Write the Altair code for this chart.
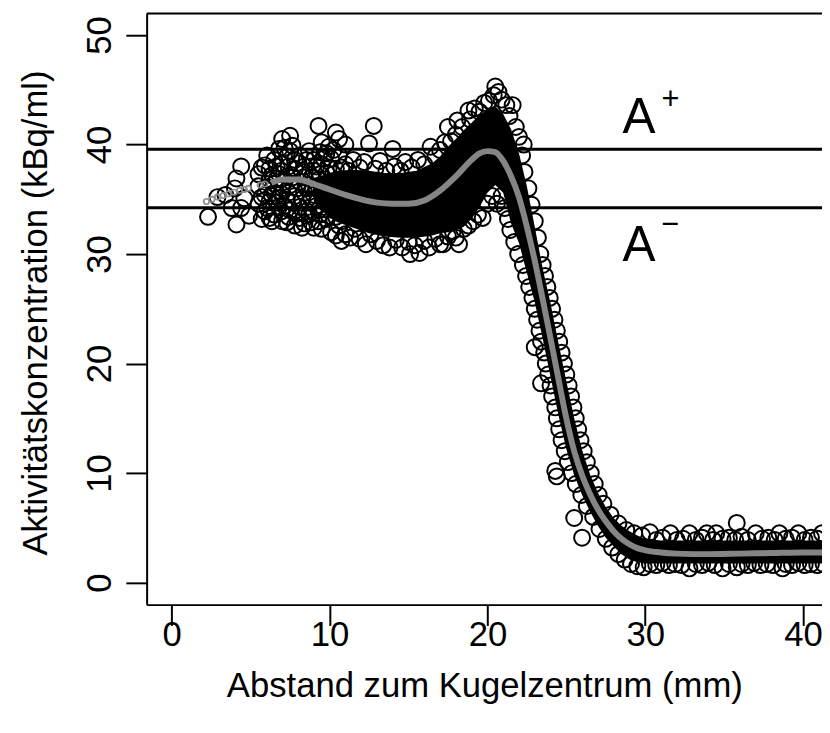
import altair as alt
import pandas as pd

# ---------------- data ----------------
x_ticks = [0, 10, 20, 30, 40]
y_ticks = [0, 10, 20, 30, 40, 50]
ref_levels = [39.56, 34.23]          # A+ and A- lines

# sparse measurements near the centre
sparse_pts = [(2.3, 33.4), (2.9, 35.2), (3.4, 35.4), (3.8, 34.2), (4.0, 36.0), (4.1, 36.9),
              (4.4, 38.0), (4.1, 32.7), (4.4, 34.2), (4.9, 33.5), (4.6, 35.1)]

# plateau measurements (x 5.5 .. 11)
plateau_pts = [(5.5, 34.6), (5.5, 36.2), (5.5, 37.3),
               (5.9, 38.1), (5.9, 35.4), (5.9, 33.9),
               (6.2, 36.8), (6.2, 34.8), (6.2, 37.8), (6.2, 33.3),
               (6.5, 35.6), (6.5, 38.6), (6.5, 33.6), (6.5, 36.4),
               (6.8, 37.3), (6.8, 34.3), (6.8, 39.6), (6.8, 35.1),
               (7.0, 40.5), (7.0, 33.0), (7.0, 36.0), (7.0, 38.2),
               (7.3, 34.9), (7.3, 37.1), (7.3, 32.9), (7.3, 38.9),
               (7.5, 40.8), (7.5, 36.3), (7.5, 34.0), (7.5, 39.4),
               (7.8, 37.8), (7.8, 35.3), (7.8, 32.6), (7.8, 38.6),
               (8.1, 36.6), (8.1, 34.3), (8.1, 39.0), (8.1, 33.3),
               (8.4, 38.0), (8.4, 35.6), (8.4, 37.0), (8.4, 32.8),
               (8.7, 39.4), (8.7, 34.7), (8.7, 36.3), (8.7, 33.6),
               (9.0, 37.6), (9.0, 35.4), (9.0, 38.6), (9.0, 32.4),
               (9.3, 41.7), (9.3, 36.8), (9.3, 34.0), (9.3, 33.0),
               (9.5, 40.2), (9.5, 38.2), (9.5, 35.8), (9.5, 32.3),
               (9.8, 37.4), (9.8, 34.6), (9.8, 39.2), (9.8, 33.2),
               (10.1, 38.7), (10.1, 36.2), (10.1, 32.0), (10.1, 35.0),
               (10.4, 41.1), (10.4, 37.8), (10.4, 33.4), (10.4, 31.7),
               (10.6, 40.5), (10.6, 39.0), (10.6, 32.6),
               (11.0, 38.2), (11.0, 31.8), (11.0, 40.0)]
plateau_pts_2 = [(5.7, 35.2), (5.7, 33.2), (5.7, 37.9), (6.05, 36.1), (6.05, 34.2), (6.05, 39.0),
                 (6.35, 37.2), (6.35, 35.3), (6.35, 33.0), (6.65, 34.7), (6.65, 36.9), (6.65, 38.0),
                 (6.95, 35.5), (6.95, 37.6), (6.95, 33.9), (7.15, 39.7), (7.15, 36.6), (7.15, 34.4),
                 (7.4, 35.6), (7.4, 38.0), (7.4, 33.4), (7.65, 37.0), (7.65, 34.7), (7.65, 39.9),
                 (7.95, 36.0), (7.95, 33.7), (7.95, 38.3), (8.25, 37.5), (8.25, 35.0), (8.25, 32.4),
                 (8.55, 38.6), (8.55, 36.0), (8.55, 33.9), (8.85, 37.0), (8.85, 35.0), (8.85, 32.9),
                 (9.15, 38.0), (9.15, 36.1), (9.15, 34.4), (9.4, 39.3), (9.4, 37.3), (9.4, 33.6),
                 (9.65, 36.4), (9.65, 34.1), (9.65, 38.7), (9.95, 37.9), (9.95, 33.5), (9.95, 39.8),
                 (10.25, 37.3), (10.25, 34.0), (10.25, 39.5), (10.75, 37.9), (10.75, 33.0), (10.75, 31.2)]

# upper and lower edge of the dense plateau / peak
upper_pts = [(11.2, 37.6), (11.5, 38.6), (11.9, 37.9), (12.2, 38.4), (12.5, 40.1), (12.8, 41.7),
             (12.9, 37.8), (13.2, 38.5), (13.6, 37.6), (14.0, 39.6), (14.1, 38.0), (14.5, 37.6),
             (14.8, 38.4), (15.2, 37.9), (15.6, 38.6), (16.0, 38.2), (16.4, 39.8), (16.7, 38.9),
             (17.0, 39.5), (17.3, 40.2), (17.5, 41.6), (17.7, 40.3), (18.0, 40.9), (18.1, 42.2),
             (18.4, 41.6), (18.8, 43.1), (18.9, 42.3), (19.2, 43.3), (19.5, 43.0), (19.8, 43.8),
             (20.1, 44.0), (20.4, 44.5), (20.5, 45.3), (20.7, 44.8), (20.9, 44.1), (21.2, 43.6),
             (21.4, 42.6), (21.6, 43.6), (21.8, 41.6), (22.0, 40.7), (22.3, 40.0), (22.2, 39.0)]
lower_pts = [(11.3, 31.5), (11.6, 32.3), (11.9, 31.4), (12.3, 30.9), (12.6, 31.8), (13.0, 31.2),
             (13.4, 30.8), (13.8, 30.6), (14.2, 31.3), (14.6, 30.6), (15.0, 31.1), (15.1, 30.0),
             (15.4, 30.8), (15.7, 30.1), (16.0, 31.2), (16.3, 30.6), (16.7, 31.4), (17.0, 30.9),
             (17.2, 30.9), (17.5, 31.6), (17.8, 32.1), (18.0, 31.5), (18.2, 30.9), (18.5, 32.3),
             (18.8, 32.6), (19.1, 33.0), (19.4, 33.6), (19.7, 33.3), (20.0, 34.6), (20.3, 35.3),
             (20.6, 34.6), (20.9, 35.3), (21.1, 34.2)]

# edges of the falling flank
fall_left_pts = [(21.3, 33.2), (21.45, 32.2), (21.7, 31.1), (21.95, 30.0), (22.25, 29.0), (22.45, 28.0),
                 (22.65, 27.0), (22.85, 26.0), (23.0, 25.0), (23.15, 24.0), (23.3, 23.0), (23.4, 22.0),
                 (23.6, 21.0), (23.7, 20.0), (23.85, 19.0), (24.0, 18.0), (24.1, 17.0), (24.3, 16.0),
                 (24.4, 15.0), (24.55, 14.0), (24.7, 13.0), (24.9, 12.0), (25.1, 11.0), (25.35, 10.0),
                 (25.6, 9.0), (25.95, 8.0), (26.3, 7.0), (26.7, 6.0), (27.1, 4.9), (27.5, 4.0),
                 (27.9, 3.2), (28.3, 2.6), (28.7, 2.1), (29.1, 1.7), (29.5, 1.5),
                 (23.0, 21.5), (23.4, 18.2), (24.3, 10.2), (24.4, 9.7), (25.5, 5.9), (26.0, 4.1)]
fall_right_pts = [(22.35, 37.5), (22.6, 36.0), (22.8, 34.5), (23.0, 33.0), (23.2, 31.5), (23.35, 30.0),
                  (23.5, 29.0), (23.65, 28.0), (23.8, 27.0), (23.95, 26.0), (24.1, 25.0), (24.25, 24.0),
                  (24.4, 23.0), (24.55, 22.0), (24.7, 21.0), (24.85, 20.0), (25.0, 19.0), (25.15, 18.0),
                  (25.3, 17.0), (25.45, 16.0), (25.6, 15.0), (25.75, 14.0), (25.9, 13.0), (26.1, 12.0),
                  (26.3, 11.0), (26.55, 10.0), (26.8, 9.0), (27.05, 8.0), (27.35, 7.2), (27.8, 6.2),
                  (28.3, 5.4), (28.8, 4.8), (29.3, 4.5)]

# background tail
tail_pts = [(29.8, 4.3), (30.3, 4.6), (30.7, 3.9), (31.1, 4.1), (31.6, 4.5), (32.0, 3.9), (32.4, 4.0),
            (32.8, 4.5), (33.2, 3.9), (33.6, 4.1), (33.9, 4.5), (34.3, 3.9), (34.5, 4.5), (34.9, 4.0),
            (35.3, 4.1), (35.8, 5.45), (35.7, 3.9), (36.1, 4.2), (36.5, 3.9), (37.0, 4.5), (37.4, 4.0),
            (37.8, 4.1), (38.2, 3.9), (38.5, 4.5), (38.9, 4.0), (39.3, 4.1), (39.7, 4.5), (40.1, 3.9),
            (40.5, 4.1), (40.9, 4.0), (41.2, 4.5),
            (29.9, 1.4), (30.3, 1.7), (30.7, 1.6), (31.1, 1.8), (31.5, 1.6), (31.9, 1.7), (32.3, 1.6),
            (32.8, 1.3), (33.2, 1.7), (33.6, 1.6), (34.0, 1.8), (34.4, 1.6), (34.9, 1.3), (35.3, 1.7),
            (35.8, 1.4), (36.1, 1.7), (36.5, 1.6), (36.9, 1.8), (37.3, 1.6), (37.7, 1.7), (38.1, 1.6),
            (38.7, 1.3), (38.9, 1.7), (39.3, 1.6), (39.7, 1.8), (40.1, 1.6), (40.5, 1.7), (40.9, 1.6),
            (41.3, 1.7)]

# dense core of overlapping measurements (lower / upper envelope)
core_x = [9.0, 9.5, 10.0, 10.5, 11.5, 12.5, 13.5, 14.5, 15.5, 16.5, 17.0, 17.5, 18.0, 18.5, 19.0,
          19.5, 20.0, 20.5, 21.0, 21.5, 22.0, 22.5, 23.0, 23.5, 24.0, 24.5, 25.0, 25.5, 26.0,
          26.5, 27.0, 27.5, 28.0, 28.5, 29.0, 29.5, 30.0, 31.0, 41.5]
core_lo = [34.8, 34.0, 33.4, 32.9, 32.4, 31.9, 31.6, 31.5, 31.5, 31.7, 31.9, 32.0, 32.2, 32.5, 33.2,
           34.3, 35.6, 36.3, 35.6, 32.8, 31.0, 28.3, 25.6, 22.3, 18.8, 15.3, 12.2, 9.8, 8.0,
           6.5, 5.2, 4.1, 3.3, 2.6, 2.1, 1.85, 1.75, 1.75, 1.75]
core_hi = [36.2, 37.1, 37.4, 37.6, 37.7, 37.6, 37.4, 37.4, 37.6, 38.3, 38.9, 39.8, 40.5, 41.3, 42.0,
           42.7, 43.2, 43.5, 42.8, 41.4, 39.2, 36.2, 32.5, 28.7, 25.5, 21.9, 18.4, 15.0, 12.1,
           9.9, 8.2, 6.9, 5.9, 5.2, 4.7, 4.3, 4.0, 3.85, 3.85]

# smooth fitted profile (grey curve)
fit_x = [6.3, 7.0, 8.0, 9.0, 10.0, 11.0, 12.0, 13.0, 14.0, 15.0, 16.0, 17.0, 18.0, 19.0, 19.5, 20.0,
         20.5, 21.0, 21.5, 22.0, 22.5, 23.0, 23.5, 24.0, 24.5, 25.0, 25.5, 26.0, 26.5, 27.0, 27.5,
         28.0, 28.5, 29.0, 29.5, 30.0, 31.0, 32.0, 34.0, 36.0, 38.0, 40.0, 41.5]
fit_y = [36.5, 36.8, 36.8, 36.4, 35.9, 35.4, 35.0, 34.7, 34.6, 34.6, 34.9, 35.8, 37.1, 38.6, 39.2, 39.4,
         39.3, 38.5, 37.1, 35.2, 32.5, 29.4, 25.9, 22.3, 18.6, 15.0, 12.0, 9.8, 8.1, 6.7, 5.6,
         4.7, 4.0, 3.5, 3.15, 2.95, 2.75, 2.65, 2.6, 2.65, 2.7, 2.75, 2.75]

# small grey points of the fit near the centre
gray_x = [2.2, 2.55, 2.9, 3.25, 3.6, 3.95, 4.3, 4.6, 4.85, 5.6, 5.9]
gray_y = [34.8, 35.0, 35.2, 35.35, 35.5, 35.65, 35.8, 35.9, 36.0, 36.3, 36.4]

# annotations
label_x = [29.6, 29.6]
label_y = [41.04, 29.39]
sign_x = [31.6, 31.6]
sign_y = [43.24, 31.86]
sign_text = ["+", "\u2212"]

# ---------------- tables ----------------
all_pts = (sparse_pts + plateau_pts + plateau_pts_2 + upper_pts + lower_pts + fall_left_pts
           + fall_right_pts + tail_pts)
df_pts = pd.DataFrame(all_pts, columns=["x", "y"])
df_core = pd.DataFrame({"x": core_x, "lo": core_lo, "hi": core_hi})
df_fit = pd.DataFrame({"x": fit_x, "y": fit_y})
df_gray = pd.DataFrame({"x": gray_x, "y": gray_y})
df_ref = pd.DataFrame({"y": ref_levels})
df_lab = pd.DataFrame({"x": label_x, "y": label_y, "t": ["A", "A"]})
df_sign = pd.DataFrame({"x": sign_x, "y": sign_y, "t": sign_text})

FONT = "Liberation Sans"
W, H = 682, 597
xs = alt.Scale(domain=[-1.59, 41.2], nice=False, zero=False)
ys = alt.Scale(domain=[-2.01, 51.97], nice=False, zero=False)

common = dict(domainColor="black", domainWidth=2, tickColor="black", tickWidth=2, tickSize=21,
              labelColor="black", titleColor="black", labelFont=FONT, titleFont=FONT,
              labelFontSize=35, titleFontSize=35, titleFontWeight="normal", grid=False,
              labelFlush=False, labelOverlap=False)
xaxis = alt.Axis(values=x_ticks, title="Abstand zum Kugelzentrum (mm)", labelPadding=20,
                 labelBaseline="alphabetic", titleX=W / 2, titleY=93, titleAlign="center",
                 titleBaseline="alphabetic", **common)
yaxis = alt.Axis(values=y_ticks, title="Aktivitätskonzentration (kBq/ml)", labelAngle=270,
                 labelAlign="center", labelBaseline="alphabetic", labelPadding=15,
                 titleAngle=270, titleX=-101, titleY=302, titleAlign="center",
                 titleBaseline="alphabetic", **common)

X = lambda f: alt.X(f, type="quantitative", scale=xs, axis=xaxis)
Y = lambda f: alt.Y(f, type="quantitative", scale=ys, axis=yaxis)

core = alt.Chart(df_core).mark_area(color="black", opacity=1, clip=True).encode(
    x=X("x"), y=Y("lo"), y2="hi")
pts = alt.Chart(df_pts).mark_point(shape="circle", filled=False, color="black", size=260,
                                   strokeWidth=2, opacity=1, clip=True).encode(x=X("x"), y=Y("y"))
gray = alt.Chart(df_gray).mark_point(shape="circle", filled=False, color="#8a8a8a", size=30,
                                     strokeWidth=1.6, opacity=1, clip=True).encode(x=X("x"), y=Y("y"))
refs = alt.Chart(df_ref).mark_rule(color="black", strokeWidth=3).encode(y=Y("y"))
fit = alt.Chart(df_fit).mark_line(color="#858585", strokeWidth=6, interpolate="monotone",
                                  clip=True).encode(x=X("x"), y=Y("y"))
top = alt.Chart(pd.DataFrame({"k": [0]})).mark_rule(color="black", strokeWidth=2).encode(
    x=alt.value(0), x2=alt.value(W), y=alt.value(0))
labs = alt.Chart(df_lab).mark_text(font=FONT, fontSize=50, align="center", baseline="alphabetic",
                                   color="black").encode(x=X("x"), y=Y("y"), text="t:N")
signs = alt.Chart(df_sign).mark_text(font=FONT, fontSize=31, align="center", baseline="alphabetic",
                                     color="black").encode(x=X("x"), y=Y("y"), text="t:N")

chart = alt.layer(core, pts, gray, refs, fit, top, labs, signs).properties(
    width=W, height=H,
    padding={"left": 140, "top": 2, "right": 0, "bottom": 113},
    autosize=alt.AutoSizeParams(type="none"),
).configure_view(stroke=None).configure(background="white")

chart.save("out.html", embed_options={"renderer": "svg", "actions": False})
